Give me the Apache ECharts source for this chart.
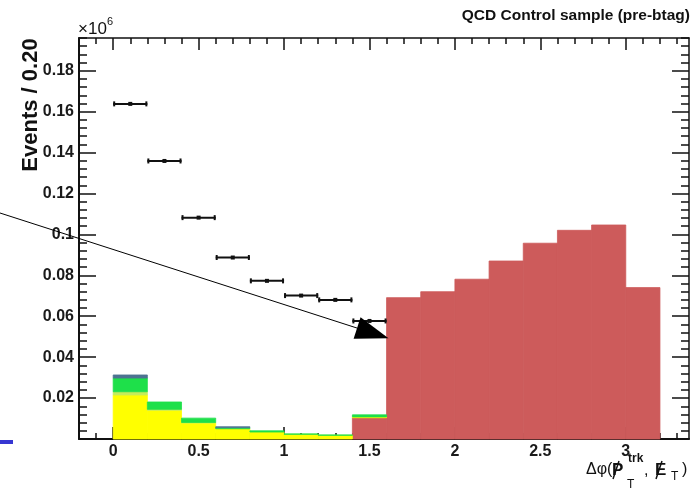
<!DOCTYPE html>
<html><head><meta charset="utf-8">
<script src="https://cdn.jsdelivr.net/npm/echarts@6/dist/echarts.min.js"></script>
<style>html,body{margin:0;padding:0;background:#fff}#c{width:696px;height:491px}</style>
</head><body><div id="c"></div>
<script>
// ---- data (values in units of 10^6) ----
const binLow = [0,0.2,0.4,0.6,0.8,1.0,1.2,1.4,1.6,1.8,2.0,2.2,2.4,2.6,2.8,3.0];
const binWidth = 0.2;
const dataPoints = [0.1638,0.1359,0.1082,0.0887,0.0773,0.0701,0.0680,0.0577];
const redComp    = [0,0,0,0,0,0,0,0.0104,0.0691,0.0720,0.0781,0.0870,0.0957,0.1020,0.1046,0.0740];
const yellowComp = [0.0215,0.0140,0.0078,0.0050,0.0034,0.0023,0.0018,0.0004,0,0,0,0,0,0,0,0];
const limeComp   = [0.0016,0.0005,0.0003,0,0,0,0,0,0,0,0,0,0,0,0,0];
const greenComp  = [0.0067,0.0036,0.0021,0.0005,0.0006,0.0002,0.0002,0.0010,0,0,0,0,0,0,0,0];
const blueComp   = [0.0015,0,0,0.0005,0,0,0,0,0,0,0,0,0,0,0,0];
const xMajor = [0,0.5,1,1.5,2,2.5,3];
const yMajor = [0.02,0.04,0.06,0.08,0.1,0.12,0.14,0.16,0.18];
const X_MIN = -0.2, X_MAX = 3.37, Y_MIN = 0, Y_MAX = 0.196;

const xMinor = [];
for (let k = -1; k <= 33; k++) { if (k % 5 !== 0) xMinor.push(+(k*0.1).toFixed(2)); }
const yMinor = [];
for (let k = 1; k <= 49; k++) { if (k % 5 !== 0) yMinor.push(+(k*0.004).toFixed(3)); }

const chart = echarts.init(document.getElementById('c'), null, {renderer:'canvas'});
const FONT = 'Liberation Sans, Arial, sans-serif';

function xAx(pos, ticks, len, showLine, labels) {
  return {
    type:'value', gridIndex:0, position:pos, min:X_MIN, max:X_MAX,
    axisLine:{show:showLine, onZero:false, lineStyle:{color:'#111', width: pos==='bottom'?2:1.5}},
    axisTick:{show:true, inside:true, length:len, customValues:ticks, lineStyle:{color:'#111', width:1.5}},
    axisLabel: labels ? {show:true, customValues:xMajor, margin:5, color:'#1a1a1a', fontSize:16, fontWeight:'bold',
      fontFamily:FONT, formatter:v=>String(+v.toFixed(1))} : {show:false},
    splitLine:{show:false}, minorTick:{show:false}
  };
}
function yAx(pos, ticks, len, showLine, labels) {
  return {
    type:'value', gridIndex:0, position:pos, min:Y_MIN, max:Y_MAX,
    axisLine:{show:showLine, onZero:false, lineStyle:{color:'#111', width: pos==='left'?2:1.5}},
    axisTick:{show:true, inside:true, length:len, customValues:ticks, lineStyle:{color:'#111', width:1.5}},
    axisLabel: labels ? {show:true, customValues:yMajor, margin:5, color:'#1a1a1a', fontSize:16, fontWeight:'bold',
      fontFamily:FONT, formatter:v=>String(+v.toFixed(2))} : {show:false},
    splitLine:{show:false}, minorTick:{show:false}
  };
}

function stackSeries(name, comp, below, color) {
  const data = binLow.map((lo,i)=>{
    let base = 0; below.forEach(a=>base += a[i]);
    return [lo, lo+binWidth, base, base+comp[i]];
  });
  return {
    type:'custom', name, coordinateSystem:'cartesian2d', xAxisIndex:0, yAxisIndex:0,
    encode:{x:[0,1], y:[2,3]}, silent:true, z:2,
    renderItem:(params, api)=>{
      const lo=api.value(0), hi=api.value(1), b=api.value(2), t=api.value(3);
      if (t-b <= 0) return null;
      const p0 = api.coord([lo, t]), p1 = api.coord([hi, b]);
      return {type:'rect', shape:{x:p0[0], y:p0[1], width:p1[0]-p0[0], height:p1[1]-p0[1]},
        style:{fill:color, stroke:color, lineWidth:0.8}};
    },
    data
  };
}

const series = [
  stackSeries('red', redComp, [], '#cd5b5b'),
  stackSeries('yellow', yellowComp, [redComp], '#ffff00'),
  stackSeries('lime', limeComp, [redComp, yellowComp], '#c6ec5c'),
  stackSeries('green', greenComp, [redComp, yellowComp, limeComp], '#1ee04a'),
  stackSeries('blue', blueComp, [redComp, yellowComp, limeComp, greenComp], '#4d7391'),
  {
    type:'custom', name:'data', coordinateSystem:'cartesian2d', xAxisIndex:0, yAxisIndex:0,
    encode:{x:[0,1], y:2}, silent:true, z:3,
    renderItem:(params, api)=>{
      const lo=api.value(0), hi=api.value(1), v=api.value(2);
      const a = api.coord([lo, v]), b = api.coord([hi, v]), c = api.coord([(lo+hi)/2, v]);
      return {type:'group', children:[
        {type:'line', shape:{x1:a[0], y1:a[1], x2:b[0], y2:b[1]}, style:{stroke:'#111', lineWidth:2}},
        {type:'line', shape:{x1:a[0]+1, y1:a[1]-2.5, x2:a[0]+1, y2:a[1]+2.5}, style:{stroke:'#111', lineWidth:2}},
        {type:'line', shape:{x1:b[0]-1, y1:b[1]-2.5, x2:b[0]-1, y2:b[1]+2.5}, style:{stroke:'#111', lineWidth:2}},
        {type:'rect', shape:{x:c[0]-2, y:c[1]-2, width:4, height:4}, style:{fill:'#111'}}
      ]};
    },
    data: dataPoints.map((v,i)=>[binLow[i], binLow[i]+binWidth, v])
  }
];

// arrow geometry (annotation)
const aStart = [0, 213], aTip = [388.5, 338.2];
const dx = aTip[0]-aStart[0], dy = aTip[1]-aStart[1], L = Math.hypot(dx,dy);
const ux = dx/L, uy = dy/L, nx = -uy, ny = ux;
const headLen = 33, headHalf = 11.3;
const bx = aTip[0]-headLen*ux, by = aTip[1]-headLen*uy;

const graphic = [
  {type:'text', right:6, top:8, style:{text:'QCD Control sample (pre-btag)', fill:'#111', font:'bold 15.5px '+FONT}},
  {type:'text', x:31, y:105, rotation:Math.PI/2, style:{text:'Events / 0.20', fill:'#111', font:'bold 22px '+FONT, align:'center', verticalAlign:'middle'}},
  {type:'text', x:78, y:29, style:{text:'×10', fill:'#111', font:'17px '+FONT, verticalAlign:'middle'}},
  {type:'text', x:107, y:22, style:{text:'6', fill:'#111', font:'11px '+FONT, verticalAlign:'middle'}},
  // x axis title
  {type:'text', x:586, y:470, style:{text:'Δφ(', fill:'#111', font:'16px '+FONT, verticalAlign:'middle'}},
  {type:'text', x:612, y:470, style:{text:'P', fill:'#111', font:'bold 17px '+FONT, verticalAlign:'middle'}},
  {type:'line', shape:{x1:613, y1:479, x2:619, y2:461}, style:{stroke:'#111', lineWidth:1.5}},
  {type:'text', x:628, y:459, style:{text:'trk', fill:'#111', font:'bold 12px '+FONT, verticalAlign:'middle'}},
  {type:'text', x:627, y:485, style:{text:'T', fill:'#111', font:'12px '+FONT, verticalAlign:'middle'}},
  {type:'text', x:644, y:471, style:{text:',', fill:'#111', font:'16px '+FONT, verticalAlign:'middle'}},
  {type:'text', x:655, y:470, style:{text:'E', fill:'#111', font:'bold 17px '+FONT, verticalAlign:'middle'}},
  {type:'line', shape:{x1:656, y1:479, x2:662, y2:461}, style:{stroke:'#111', lineWidth:1.5}},
  {type:'text', x:671, y:477, style:{text:'T', fill:'#111', font:'12px '+FONT, verticalAlign:'middle'}},
  {type:'text', x:682, y:470, style:{text:')', fill:'#111', font:'16px '+FONT, verticalAlign:'middle'}},
  // arrow
  {type:'line', z:100, shape:{x1:aStart[0], y1:aStart[1], x2:bx, y2:by}, style:{stroke:'#000', lineWidth:1}},
  {type:'polygon', z:100, shape:{points:[[aTip[0],aTip[1]],[bx+headHalf*nx, by+headHalf*ny],[bx-headHalf*nx, by-headHalf*ny]]}, style:{fill:'#000'}},
  // blue fragment bottom-left
  {type:'rect', shape:{x:0, y:440, width:13, height:4}, style:{fill:'#3636d2'}}
];

chart.setOption({
  animation:false,
  backgroundColor:'#fff',
  grid:{left:79, top:38, right:7, bottom:52, containLabel:false},
  xAxis:[
    xAx('bottom', xMajor, 12, true, true),
    xAx('bottom', xMinor, 6, false, false),
    xAx('top', xMajor, 12, true, false),
    xAx('top', xMinor, 6, false, false)
  ],
  yAxis:[
    yAx('left', yMajor, 17, true, true),
    yAx('left', yMinor, 8, false, false),
    yAx('right', yMajor, 17, true, false),
    yAx('right', yMinor, 8, false, false)
  ],
  series,
  graphic
});
</script></body></html>
